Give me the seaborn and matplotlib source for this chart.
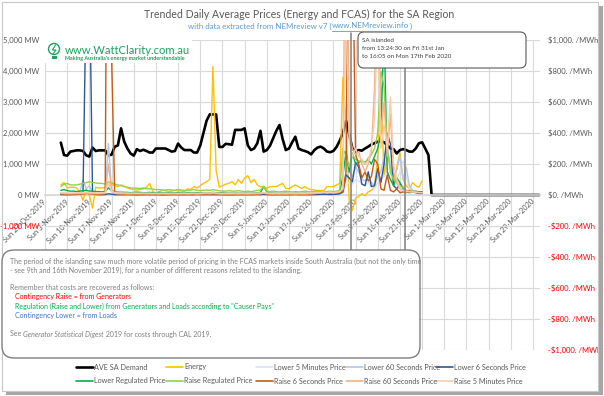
import numpy as np
import pandas as pd
import matplotlib
matplotlib.use("Agg")
import matplotlib.pyplot as plt
import seaborn as sns
from matplotlib.patches import FancyBboxPatch, Rectangle, Circle
from matplotlib.lines import Line2D

# ---------------- data ----------------
demand_start, demand_end = "2019-11-01", "2020-03-31"
price_start, price_end = "2019-11-01", "2020-02-23"

ave_sa_demand = [
    1690, 1290, 1270, 1400, 1420, 1440, 1440, 1420, 1280, 1240, 1530, 1420, 1440, 1440, 1440, 1280, 1300,
    1560, 1600, 2150, 1720, 1500, 1340, 1270, 1480, 1420, 1460, 1420, 1370, 1370, 1500, 1500, 1500, 1500,
    1450, 1400, 1420, 1660, 1530, 1450, 1450, 1450, 1370, 1370,
    1600, 2000, 2400, 2600, 2600, 2600, 1550, 1550, 1650, 1640, 1620, 2100, 2100, 2100, 2150, 1600, 1450,
    1500, 1670, 2070, 1400, 1450, 1590, 1830, 2070, 2260, 1800, 1450, 1500, 1700, 1880, 1500, 1450, 1420,
    1380, 1310, 1450, 1530, 1560, 1500, 1400, 1380, 1420, 1550, 1750,
    2000, 2400, 1950, 1500, 1400, 1450, 1430, 1500, 1560, 1630, 1670, 1720, 1740, 1700, 1610, 1500, 1480,
    1340, 1450, 1480, 1450, 1400, 1400, 1500, 1670, 1700, 1500, 1290,
    0, 0, 0, 0, 0, 0, 0, 0, 0, 0, 0, 0, 0, 0, 0, 0, 0, 0, 0, 0, 0, 0, 0, 0, 0, 0, 0, 0, 0, 0, 0, 0, 0, 0, 0,
]

energy = [
    65, 80, 45, 50, 50, 45, 20, -35, 40, 0,
    -85, 50, 45, 45, 50, 85, 70, 60, 55, 65,
    55, 45, 40, 35, 32, 35, 40, 50, 75, 25,
    10, 20, 30, 28, 22, 25, 30, 35, 25, 20,
    40, 35, 55, 45, 60, 75, 86, 100, 830, 160,
    50, 60, 70, 75, 86, 65, 100, 75, 110, 125,
    80, 100, 65, 54, 50, 43, 54, 54, 54, 65,
    75, 43, 40, 54, 65, 54, 43, 54, 40, 35,
    32, 28, 30, 28, 54, 54, 54, 65, 75, 760,
    470, -40, -100, -20, -10, 10, -5, 20, 30, 60,
    250, 700, 120, 250, 200, 60, 180, 270, 100, 60,
    40, 80, 60, 50, 90,
]
lower_5min = [
    3, 3, 2, 3, 3, 4, 8, 30, 20, 25,
    8, 4, 3, 3, 5, 60, 15, 4, 3, 3,
    3, 2, 3, 2, 3, 3, 2, 3, 2, 3,
    3, 2, 3, 3, 2, 3, 3, 2, 3, 3,
    2, 3, 3, 2, 3, 3, 4, 3, 4, 3,
    3, 2, 3, 2, 3, 3, 2, 3, 3, 2,
    3, 3, 3, 3, 4, 3, 2, 3, 3, 2,
    3, 2, 3, 3, 2, 3, 3, 2, 3, 3,
    4, 4, 5, 5, 4, 4, 5, 5, 8, 12,
    60, 80, 70, 100, 90, 70, 60, 80, 50, 40,
    80, 100, 120, 150, 140, 80, 100, 150, 220, 120,
    40, 20, 15, 10, 8,
]
lower_60sec = [
    4, 3, 3, 4, 5, 6, 20, 97, 40, 60,
    15, 5, 4, 4, 10, 333, 30, 5, 4, 3,
    3, 3, 2, 3, 2, 3, 3, 2, 3, 3,
    2, 3, 3, 2, 3, 3, 2, 3, 3, 2,
    3, 3, 2, 3, 3, 4, 3, 3, 4, 3,
    3, 2, 3, 3, 2, 3, 3, 2, 3, 3,
    3, 3, 4, 3, 5, 3, 3, 2, 3, 3,
    3, 3, 2, 3, 3, 3, 2, 3, 3, 3,
    4, 5, 5, 6, 5, 4, 5, 6, 10, 15,
    100, 150, 120, 180, 150, 100, 90, 120, 80, 60,
    120, 150, 250, 300, 200, 120, 160, 250, 100, 180,
    60, 30, 20, 15, 10,
]
lower_6sec = [
    3, 2, 2, 2, 3, 3, 5, 15, 1330, 1480,
    10, 3, 2, 2, 3, 8, 5, 2, 2, 2,
    2, 3, 2, 2, 1, 2, 2, 3, 2, 2,
    2, 2, 1, 2, 2, 2, 3, 2, 2, 2,
    2, 2, 2, 3, 2, 2, 3, 2, 3, 2,
    2, 2, 2, 1, 2, 2, 2, 2, 2, 2,
    2, 2, 3, 2, 4, 2, 2, 2, 2, 2,
    2, 2, 2, 2, 3, 2, 2, 2, 2, 2,
    3, 3, 4, 5, 4, 3, 4, 5, 8, 20,
    130, 110, 85, 210, 180, 70, 60, 150, 55, 60,
    170, 80, 200, 400, 330, 60, 40, 70, 50, 20,
    15, 20, 15, 10, 10,
]
lower_reg = [
    30, 35, 28, 25, 25, 22, 25, 28, 30, 25,
    25, 22, 22, 20, 25, 45, 30, 20, 18, 18,
    17, 17, 15, 17, 18, 17, 15, 15, 17, 15,
    15, 17, 15, 14, 15, 15, 15, 17, 15, 14,
    15, 15, 14, 15, 15, 14, 15, 15, 17, 15,
    14, 15, 13, 12, 12, 13, 12, 12, 13, 12,
    12, 13, 15, 15, 55, 20, 14, 12, 12, 11,
    12, 12, 11, 11, 12, 12, 11, 12, 11, 11,
    12, 12, 11, 12, 12, 11, 12, 14, 18, 120,
    280, 150, 270, 200, 210, 220, 210, 230, 200, 250,
    300, 400, 1100, 150, 100, 60, 110, 80, 40, 25,
    20, 20, 20, 20, 20,
]
raise_reg = [
    55, 70, 75, 65, 65, 65, 70, 75, 80, 85,
    80, 78, 75, 75, 70, 85, 80, 70, 65, 60,
    55, 50, 45, 45, 43, 43, 45, 40, 40, 38,
    35, 35, 32, 32, 35, 32, 30, 35, 32, 30,
    30, 32, 35, 30, 28, 30, 32, 30, 35, 30,
    28, 25, 25, 28, 25, 25, 28, 25, 22, 25,
    22, 25, 30, 32, 55, 25, 22, 25, 22, 20,
    22, 25, 22, 20, 22, 20, 22, 25, 22, 20,
    22, 25, 22, 20, 22, 25, 22, 25, 30, 300,
    250, 180, 260, 230, 220, 220, 200, 240, 260, 300,
    400, 800, 700, 300, 150, 100, 80, 60, 50, 30,
    25, 25, 22, 20, 20,
]
raise_6sec = [
    8, 6, 5, 5, 6, 5, 5, 6, 10, 8,
    6, 5, 5, 6, 8, 3900, 900, 10, 6, 5,
    5, 4, 4, 5, 4, 4, 5, 4, 4, 4,
    4, 5, 4, 4, 4, 5, 4, 4, 5, 4,
    4, 4, 5, 4, 5, 5, 6, 5, 8, 6,
    5, 4, 4, 5, 4, 4, 5, 4, 5, 5,
    4, 5, 5, 6, 12, 6, 5, 4, 5, 4,
    5, 4, 4, 5, 5, 4, 5, 4, 5, 6,
    8, 10, 12, 15, 10, 12, 10, 15, 20, 20,
    150, 2500, 1800, 260, 200, 110, 150, 90, 120, 230,
    200, 40, 30, 130, 30, 20, 40, 15, 20, 15,
    30, 20, 25, 20, 20,
]
raise_60sec = [
    10, 8, 8, 7, 8, 8, 9, 10, 12, 10,
    9, 8, 8, 9, 10, 200, 30, 10, 9, 8,
    8, 7, 7, 8, 7, 7, 8, 7, 7, 6,
    7, 6, 7, 7, 6, 7, 7, 6, 7, 7,
    6, 7, 7, 6, 7, 8, 9, 8, 10, 8,
    7, 6, 7, 6, 7, 7, 6, 7, 7, 6,
    7, 7, 8, 8, 12, 8, 7, 6, 7, 6,
    7, 6, 7, 7, 6, 7, 7, 6, 8, 8,
    10, 12, 12, 15, 12, 14, 12, 15, 20, 40,
    2500, 400, 300, 260, 280, 200, 150, 200, 280, 700,
    1500, 400, 600, 250, 520, 150, 80, 40, 30, 20,
    25, 20, 20, 15, 15,
]
raise_5min = [
    15, 14, 14, 13, 14, 14, 15, 16, 18, 16,
    15, 14, 14, 15, 16, 80, 25, 15, 14, 14,
    13, 13, 12, 13, 12, 12, 13, 12, 12, 11,
    12, 11, 12, 12, 11, 12, 12, 11, 12, 12,
    11, 12, 12, 11, 12, 13, 14, 13, 15, 13,
    12, 11, 12, 11, 12, 12, 11, 12, 12, 11,
    12, 12, 13, 13, 16, 13, 12, 11, 12, 11,
    12, 11, 12, 12, 11, 12, 12, 11, 13, 13,
    15, 16, 16, 18, 16, 18, 16, 18, 22, 40,
    1200, 350, 250, 300, 250, 230, 200, 220, 300, 500,
    1200, 300, 450, 300, 630, 200, 100, 50, 30, 25,
    20, 20, 18, 15, 15,
]

price_names = ["Energy", "Lower 5 Minutes Price", "Lower 60 Seconds Price", "Lower 6 Seconds Price",
               "Lower Regulated Price", "Raise Regulated Price", "Raise 6 Seconds Price",
               "Raise 60 Seconds Price", "Raise 5 Minutes Price"]
price_values = [energy, lower_5min, lower_60sec, lower_6sec, lower_reg, raise_reg,
                raise_6sec, raise_60sec, raise_5min]
price_colors = ["#FFC000", "#DAE3F3", "#B4C7E7", "#2F5597", "#00B050", "#92D050",
                "#C55A11", "#F4B183", "#F8CBAD"]
demand_name = "AVE SA Demand"

island_start = "2020-01-31 13:24:30"
island_end = "2020-02-17 16:05:00"
week_ticks_start, week_ticks_end = "2019-10-27", "2020-03-29"
x_min, x_max = "2019-10-27", "2020-03-31 05:00"
mw_ticks = [-5000, -4000, -3000, -2000, -1000, 0, 1000, 2000, 3000, 4000, 5000]
mw_labels_shown = [-1000, 0, 1000, 2000, 3000, 4000, 5000]   # the rest sit under the note box
price_ticks = [-1000, -800, -600, -400, -200, 0, 200, 400, 600, 800, 1000]

title = "Trended Daily Average Prices (Energy and FCAS) for the SA Region"
subtitle_parts = ["with data extracted from NEMreview v7 (", "www.NEMreview.info", ")"]
island_note = ["SA islanded", "from 13:24:30 on Fri 31st Jan", "to 16:05 on Mon 17th Feb 2020"]
note_lines = [
    ("The period of the islanding saw much more volatile period of pricing in the FCAS markets inside South Australia (but not the only time", "#7F7F7F", 0),
    ("- see 9th and 16th November 2019), for a number of different reasons related to the islanding.", "#7F7F7F", 0),
    ("Remember that costs are recovered as follows:", "#7F7F7F", 0),
    ("Contingency Raise = from Generators", "#FF0000", 1),
    ("Regulation (Raise and Lower) from Generators and Loads according to \"Causer Pays\"", "#00B050", 1),
    ("Contingency Lower = from Loads", "#4472C4", 1),
]
see_parts = ["See ", "Generator Statistical Digest", " 2019 for costs through CAL 2019."]

# ---------------- figure ----------------
sns.set_theme(style="white")
plt.rcParams["font.family"] = ["Lato", "DejaVu Sans"]
GRAY = "#595959"
W, H = 604, 396
L, R, T, B = 45, 540, 40, 350
fig = plt.figure(figsize=(W / 100, H / 100), dpi=100)
fig.patch.set_facecolor("white")
ax = fig.add_axes([L / W, 1 - B / H, (R - L) / W, (B - T) / H])
ax2 = ax.twinx()

dem_df = pd.DataFrame({"Date": pd.date_range(demand_start, demand_end, freq="D"), "MW": ave_sa_demand})
sns.lineplot(data=dem_df, x="Date", y="MW", color="black", lw=1.9, estimator=None, ax=ax)

price_df = pd.DataFrame({"Date": pd.date_range(price_start, price_end, freq="D")})
for n, v in zip(price_names, price_values):
    price_df[n] = v
long = price_df.melt(id_vars="Date", var_name="Series", value_name="Price")
sns.lineplot(data=long, x="Date", y="Price", hue="Series", hue_order=price_names,
             palette=dict(zip(price_names, price_colors)), estimator=None, lw=1.0,
             ax=ax2, legend=False)

# spines first (moving a spine resets the ticks)
for s in ax.spines.values():
    s.set_visible(False)
ax.spines["bottom"].set_visible(True)
ax.spines["bottom"].set_position(("data", 0))
ax.spines["bottom"].set_color("#D9D9D9")
for s in ax2.spines.values():
    s.set_visible(False)

ax.set_xlim(pd.Timestamp(x_min), pd.Timestamp(x_max))
ax.set_ylim(-5000, 5000)
ax2.set_ylim(-1000, 1000)
ticks = pd.date_range(week_ticks_start, week_ticks_end, freq="7D")
ax.set_xticks(ticks)
ax.set_xticklabels([f"Sun {d.day}-{d.strftime('%b')}-{d.year}" for d in ticks])
ax.tick_params(axis="x", length=0, pad=4, labelsize=5.3, labelcolor=GRAY)
for lab in ax.get_xticklabels():
    lab.set_rotation(45)
    lab.set_ha("right")
    lab.set_va("center")
    lab.set_rotation_mode("anchor")
ax.set_yticks(mw_ticks)
ax.set_yticklabels([f"{v:,} MW" if v in mw_labels_shown else "" for v in mw_ticks], fontsize=5.5)
ax.tick_params(axis="y", length=0, pad=4)
for lab, v in zip(ax.get_yticklabels(), mw_ticks):
    lab.set_color("#FF0000" if v < 0 else GRAY)
ax2.set_yticks(price_ticks)
ax2.set_yticklabels([("-" if v < 0 else "") + f"${abs(v):,}. /MWh" for v in price_ticks], fontsize=5.5)
ax2.tick_params(axis="y", length=0, pad=6)
for lab, v in zip(ax2.get_yticklabels(), price_ticks):
    lab.set_color("#FF0000" if v < 0 else GRAY)
ax.grid(True, color="#D9D9D9", lw=0.8)
ax.set_axisbelow(True)
ax.set_xlabel("")
ax.set_ylabel("")
ax2.set_ylabel("")

for t in [island_start, island_end]:
    ax2.axvline(pd.Timestamp(t), ymin=(B - 250) / (B - T), ymax=(B - 33) / (B - T),
                color="#7F7F7F", lw=1.1, clip_on=False, zorder=6)

# ---------------- overlay (annotations) ----------------
ov = fig.add_axes([0, 0, 1, 1], zorder=10)
ov.set_xlim(0, W)
ov.set_ylim(H, 0)
ov.axis("off")
ov.patch.set_alpha(0)
renderer = fig.canvas.get_renderer()


def seq_text(pieces, x, y, align="left", **common):
    arts = [ov.text(x, y, s, ha="left", va="center", **{**common, **p}) for s, p in pieces]
    widths = [a.get_window_extent(renderer).width for a in arts]
    cur = x - sum(widths) / 2 if align == "center" else x
    spans = []
    for a, w in zip(arts, widths):
        a.set_x(cur)
        spans.append((cur, cur + w))
        cur += w
    return spans


# frame and shadow
ov.add_patch(Rectangle((598, 6), 5, 389, fc="#A6A6A6", ec="none"))
ov.add_patch(Rectangle((6, 391), 597, 4, fc="#A6A6A6", ec="none"))
ov.add_patch(Rectangle((2, 2), 596, 389, fc="none", ec="#C8C8C8", lw=0.8))

# titles
ov.text(299.5, 14, title, ha="center", va="center", fontsize=7.6, color=GRAY)
spans = seq_text([(subtitle_parts[0], {}), (subtitle_parts[1], {}), (subtitle_parts[2], {})],
                 300, 26, align="center", fontsize=5.7, color="#5B9BD5")
ov.add_line(Line2D([spans[1][0], spans[1][1]], [30.5, 30.5], color="#5B9BD5", lw=0.6))

# logo
ov.add_patch(Rectangle((45, 40), 147, 23, fc="white", ec="none"))
ov.add_patch(Circle((54, 49), 5.5, fc="none", ec="#1AA260", lw=1.0))
ov.add_line(Line2D([55.5, 52.5, 56, 53], [45, 50, 50, 54], color="#1AA260", lw=0.8))
ov.add_patch(Rectangle((51.5, 55.5), 5, 3.5, fc="#1AA260", ec="none"))
ov.text(65, 50, "www.WattClarity.com.au", ha="left", va="center", fontsize=8.1, color="#1AA260")
ov.text(65, 58.5, "Making Australia's energy market understandable", ha="left", va="center",
        fontsize=3.9, color="#1AA260", fontweight="bold")

# islanding note
ov.add_patch(FancyBboxPatch((358, 32), 168, 36, boxstyle="round,pad=0,rounding_size=6",
                            fc="white", ec="#595959", lw=0.8))
for i, line in enumerate(island_note):
    ov.text(362, 40 + 8.3 * i, line, ha="left", va="center", fontsize=4.5, color="#404040")

# explanation box
ov.add_patch(FancyBboxPatch((2, 250), 418, 108, boxstyle="round,pad=0,rounding_size=12",
                            fc="white", ec="#7F7F7F", lw=1.0))
ys = [261, 270.5, 288, 297, 306.5, 315.5]
for (txt, col, ind), y in zip(note_lines, ys):
    ov.text(10 + 5 * ind, y, txt, ha="left", va="center", fontsize=5.0, color=col)
seq_text([(see_parts[0], {}), (see_parts[1], {"style": "italic"}), (see_parts[2], {})],
         10, 334, fontsize=5.0, color="#7F7F7F")

# legend
leg_names = [demand_name] + price_names
leg_colors = ["black"] + price_colors
cols_x = [76, 166, 256, 346, 436]
for i, (n, c) in enumerate(zip(leg_names, leg_colors)):
    x0 = cols_x[i % 5]
    y0 = 367 if i < 5 else 381
    ov.add_line(Line2D([x0, x0 + 17], [y0, y0], color=c, lw=1.9 if i == 0 else 1.2))
    ov.text(x0 + 18, y0, n, ha="left", va="center", fontsize=5.2, color=GRAY)

fig.savefig("out.png", dpi=100, facecolor="white")
